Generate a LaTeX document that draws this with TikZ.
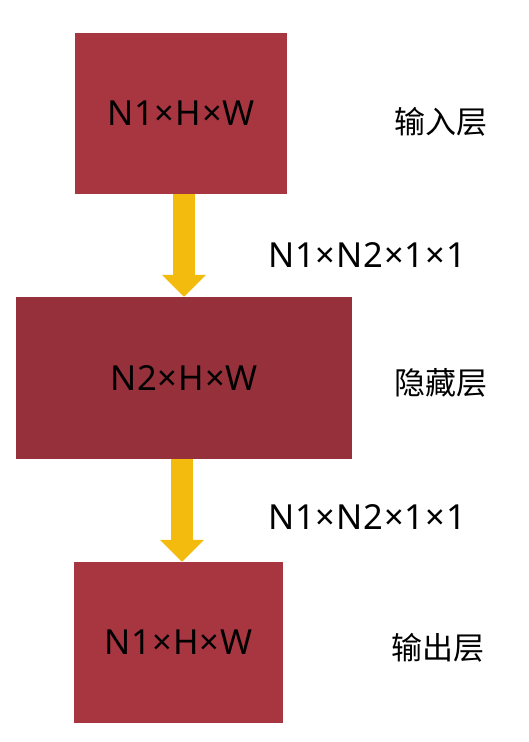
\documentclass[tikz,border=0pt]{standalone}
\usepackage{fontspec}
\setmainfont[LetterSpace=2.5]{Noto Sans}
\newfontfamily\cjk{Noto Sans CJK SC}
\usepackage{tikz}
\usetikzlibrary{arrows.meta,positioning}
\definecolor{layerred}{HTML}{A83641}
\definecolor{hiddenred}{HTML}{96303A}
\definecolor{flowgold}{HTML}{F3BB0D}

\begin{document}
\begin{tikzpicture}[x=1pt,y=-1pt,
  layer box/.style={rectangle,fill=layerred,draw=none,inner sep=0pt,
    font=\fontsize{34.5}{40}\selectfont},
  side label/.style={font=\fontsize{34.5}{40}\selectfont,inner sep=0pt},
  layer name/.style={font=\cjk\fontsize{31}{36}\selectfont,inner sep=0pt},
  flow/.style={draw=flowgold,line width=22pt,
    -{Triangle[width=43pt,length=22pt]}}]
\useasboundingbox (0,0) rectangle (529,742);

% layers
  \node[layer box,minimum width=212pt,minimum height=161pt] (in) at (181,113.5) {N1×H×W};
  \node[layer box,fill=hiddenred,minimum width=336pt,minimum height=162pt] (hid) at (184,378) {N2×H×W};
  \node[layer box,minimum width=209pt,minimum height=161pt] (out) at (178.5,642.5) {N1×H×W};

% flows between layers
  \draw[flow] (hid.north |- in.south) -- (hid.north);
  \draw[flow] ([xshift=-2pt]hid.south) -- ([xshift=-2pt]hid.south |- out.north);

% sizes of the kernels
  \node[side label] (k1) at (367,255) {N1×N2×1×1};
  \node[side label] (k2) at (367,517) {N1×N2×1×1};

% layer names
  \node[layer name] (inname) at (441,122) {输入层};
  \node[layer name] (hidname) at (441,383) {隐藏层};
  \node[layer name] (outname) at (438,648) {输出层};

\end{tikzpicture}
\end{document}
